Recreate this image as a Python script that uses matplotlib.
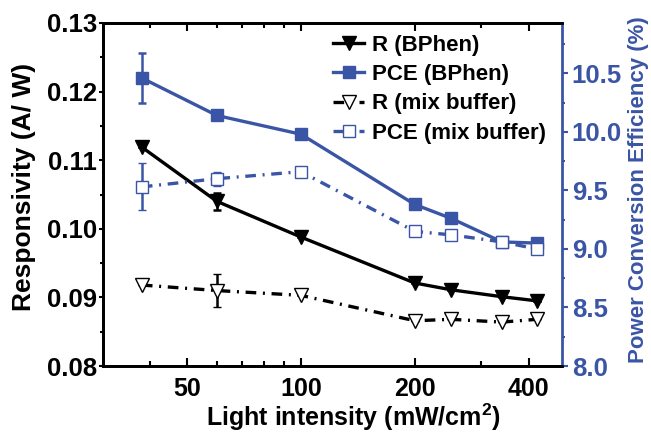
import matplotlib
matplotlib.use("Agg")
import matplotlib.pyplot as plt
from matplotlib.ticker import FixedLocator, NullFormatter, FixedFormatter, MultipleLocator, FormatStrFormatter

plt.rcParams['font.family'] = ['Liberation Sans', 'DejaVu Sans']
plt.rcParams['font.weight'] = 'bold'
plt.rcParams['mathtext.fontset'] = 'custom'
plt.rcParams['mathtext.rm'] = 'Liberation Sans:bold'
plt.rcParams['mathtext.bf'] = 'Liberation Sans:bold'
plt.rcParams['mathtext.default'] = 'bf'

BLUE = '#3a55a5'

intensity = [38, 60, 100, 200, 250, 340, 420]
r_bphen = [0.1119, 0.1040, 0.0988, 0.0921, 0.0911, 0.0901, 0.0895]
r_bphen_err = [0, 0.0012, 0, 0, 0, 0, 0]
pce_bphen = [10.46, 10.14, 9.98, 9.38, 9.26, 9.06, 9.05]
pce_bphen_err = [0.21, 0, 0, 0, 0, 0, 0]
r_mix = [0.0918, 0.0910, 0.0903, 0.0866, 0.0868, 0.0864, 0.0868]
r_mix_err = [0, 0.0024, 0, 0, 0, 0, 0]
pce_mix = [9.53, 9.60, 9.66, 9.15, 9.12, 9.06, 9.00]
pce_mix_err = [0.20, 0.06, 0, 0, 0, 0, 0]

xticks = [50, 100, 200, 400]
xticklabels = ['50', '100', '200', '400']
xminor = [40, 60, 70, 80, 90, 300]

fig = plt.figure(figsize=(6.51, 4.34), dpi=100)
ax = fig.add_axes([103/651, 1-366/434, (562-103)/651, (366-23)/434])
ax2 = ax.twinx()

ax.set_xscale('log')
ax.set_xlim(30, 490)
ax.set_ylim(0.08, 0.13)
ax2.set_ylim(8.0, 10.93)

lw = 2.4
dashdot = (0, (3.2, 2.0, 0.6, 2.0))

l1 = ax.errorbar(intensity, r_bphen, yerr=r_bphen_err, color='black', lw=lw,
                 marker='v', ms=10, mfc='black', mec='black', capsize=3, elinewidth=1.8,
                 capthick=1.8, label='R (BPhen)', zorder=3)
l3 = ax.errorbar(intensity, r_mix, yerr=r_mix_err, color='black', lw=lw, ls=dashdot,
                 marker='v', ms=10, mfc='white', mec='black', mew=1.0, capsize=3,
                 elinewidth=1.8, capthick=1.8, label='R (mix buffer)', zorder=3)
l2 = ax2.errorbar(intensity, pce_bphen, yerr=pce_bphen_err, color=BLUE, lw=lw,
                  marker='s', ms=8.5, mfc=BLUE, mec=BLUE, capsize=3, elinewidth=1.8,
                  capthick=1.8, label='PCE (BPhen)', zorder=3)
l4 = ax2.errorbar(intensity, pce_mix, yerr=pce_mix_err, color=BLUE, lw=lw, ls=dashdot,
                  marker='s', ms=8.5, mfc='white', mec=BLUE, mew=1.0, capsize=3,
                  elinewidth=1.8, capthick=1.8, label='PCE (mix buffer)', zorder=3)

# x ticks
ax.xaxis.set_major_locator(FixedLocator(xticks))
ax.xaxis.set_major_formatter(FixedFormatter(xticklabels))
ax.xaxis.set_minor_locator(FixedLocator(xminor))
ax.xaxis.set_minor_formatter(NullFormatter())
ax.tick_params(axis='x', which='both', direction='in', top=True, labelsize=18, width=1.5)
ax.tick_params(axis='x', which='major', length=6, pad=8)
ax.tick_params(axis='x', which='minor', length=3.5)

ax.yaxis.set_major_locator(MultipleLocator(0.01))
ax.yaxis.set_minor_locator(MultipleLocator(0.005))
ax.yaxis.set_major_formatter(FormatStrFormatter('%.2f'))
ax.tick_params(axis='y', which='both', direction='out', labelsize=18.5, width=1.5, pad=1.5)
ax.tick_params(axis='y', which='major', length=3)
ax.tick_params(axis='y', which='minor', length=2)

ax2.yaxis.set_major_locator(MultipleLocator(0.5))
ax2.yaxis.set_minor_locator(MultipleLocator(0.25))
ax2.yaxis.set_major_formatter(FormatStrFormatter('%.1f'))
ax2.tick_params(axis='y', which='both', direction='out', labelsize=18.5, width=1.5,
                colors=BLUE, labelcolor=BLUE, pad=3)
ax2.tick_params(axis='y', which='major', length=4)
ax2.tick_params(axis='y', which='minor', length=2.5)

for sp in ['left', 'bottom', 'top']:
    ax.spines[sp].set_linewidth(2.0)
    ax2.spines[sp].set_linewidth(2.0)
ax2.spines['right'].set_linewidth(2.0)
ax2.spines['right'].set_color(BLUE)
ax.spines['right'].set_visible(False)

ax.set_xlabel('Light intensity (mW/cm$^{2}$)', fontsize=18, fontweight='bold')
ax.xaxis.set_label_coords((353-103)/459, -(402-366)/343)
ax.set_ylabel('Responsivity (A/ W)', fontsize=19, fontweight='bold')
ax.yaxis.set_label_coords(-(103-36)/459, 0.5 - (187-194.5)/343)
ax2.set_ylabel('Power Conversion Efficiency (%)', fontsize=16, fontweight='bold',
               color=BLUE)
ax2.yaxis.set_label_coords(1 + (628-562)/459, 0.5 - (190-194.5)/343)

handles = [l1[0], l2[0], l3[0], l4[0]]
labels = ['R (BPhen)', 'PCE (BPhen)', 'R (mix buffer)', 'PCE (mix buffer)']
leg = fig.legend(handles, labels, loc='upper left', bbox_to_anchor=(333/651, 1-35/434),
                 frameon=False, fontsize=16, handlelength=1.4, handletextpad=0.35,
                 labelspacing=0.37, borderaxespad=0, borderpad=0)
for t in leg.get_texts():
    t.set_fontweight('bold')

fig.savefig('out.png', dpi=100)
